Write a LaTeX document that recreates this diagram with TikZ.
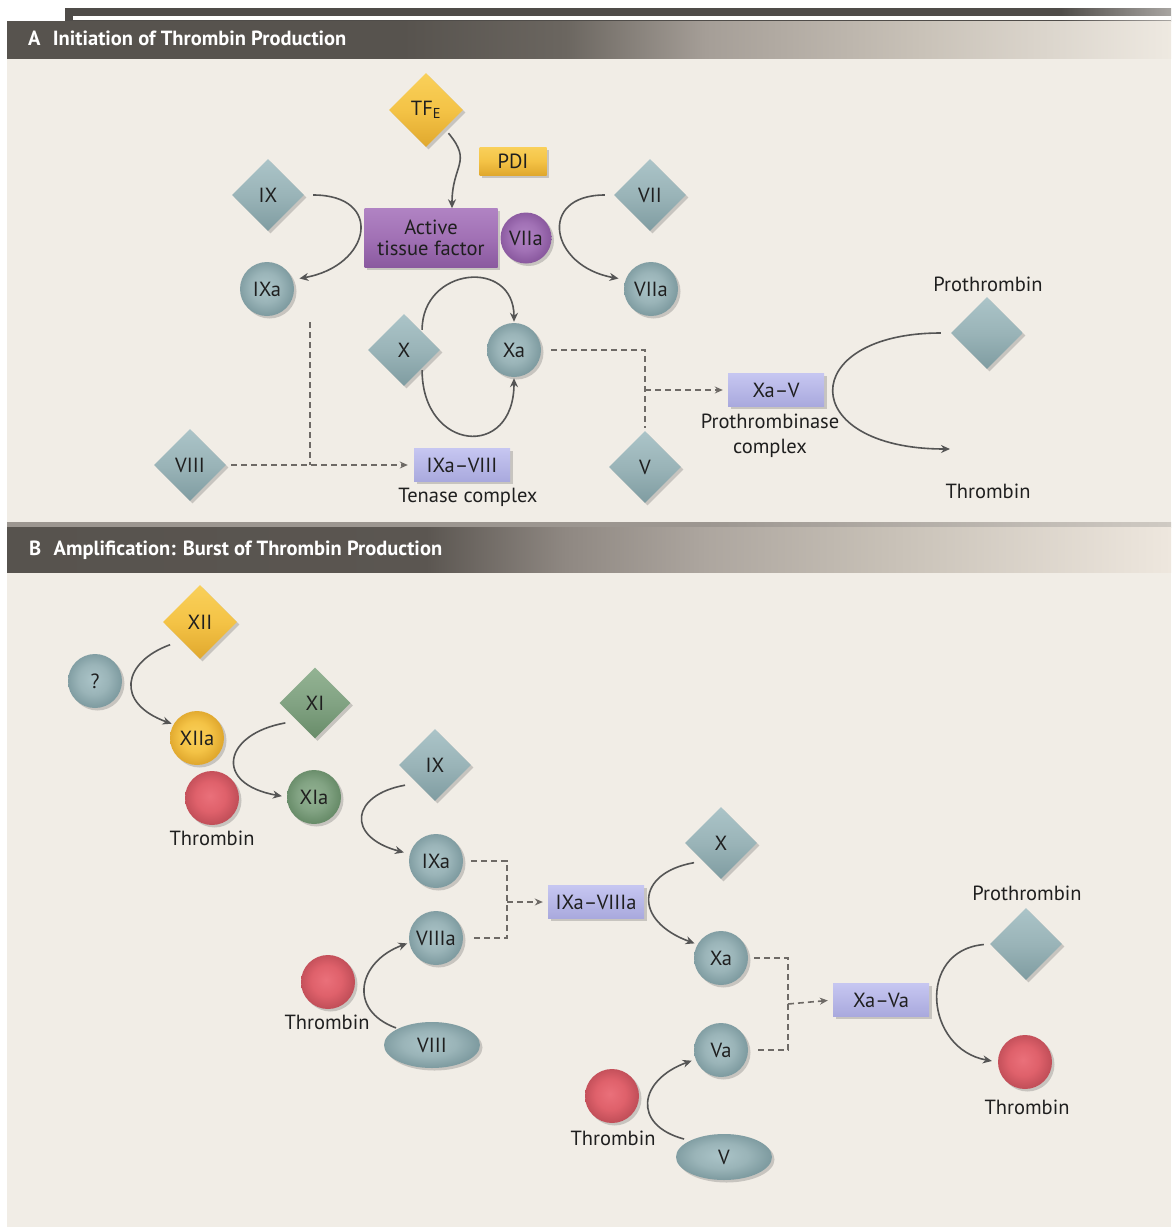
\documentclass[tikz,border=0pt]{standalone}
\usepackage{fontspec}
\setmainfont{PT Sans}
\usetikzlibrary{arrows.meta,shapes.geometric,shadows}

\definecolor{bgc}{HTML}{F1EDE6}
\definecolor{txt}{HTML}{1F1F1F}
\definecolor{arrc}{HTML}{555555}
\definecolor{dshc}{HTML}{6E6A66}
\definecolor{tealL}{HTML}{ABC4C8}
\definecolor{tealF}{HTML}{9AB4B8}
\definecolor{tealD}{HTML}{7F9CA1}
\definecolor{yelL}{HTML}{F9D05A}
\definecolor{yelF}{HTML}{F4C346}
\definecolor{yelD}{HTML}{E0A82E}
\definecolor{grnL}{HTML}{93B393}
\definecolor{grnF}{HTML}{82A383}
\definecolor{grnD}{HTML}{688C69}
\definecolor{redL}{HTML}{EA707A}
\definecolor{redF}{HTML}{DF616B}
\definecolor{redD}{HTML}{C24F59}
\definecolor{purL}{HTML}{B083C3}
\definecolor{purF}{HTML}{A171B5}
\definecolor{purD}{HTML}{8A599F}
\definecolor{lavL}{HTML}{C6C6F1}
\definecolor{lavD}{HTML}{A9A9DD}
\definecolor{hd1}{HTML}{57534E}
\definecolor{hA2}{HTML}{6B6660}
\definecolor{hA3}{HTML}{A59E97}
\definecolor{hA4}{HTML}{C8C1B7}
\definecolor{hA5}{HTML}{EEE9E1}
\definecolor{hB2}{HTML}{5B5651}
\definecolor{hB3}{HTML}{8F8882}
\definecolor{hB4}{HTML}{ADA69F}
\definecolor{hB5}{HTML}{C8C1B7}
\definecolor{hB6}{HTML}{EEE7DE}
\definecolor{tb1}{HTML}{4F4C49}
\definecolor{tb2}{HTML}{A8A5A2}
\definecolor{sp1}{HTML}{9C9690}
\definecolor{sp2}{HTML}{CFCAC3}

\pgfdeclareradialshading{tealball}{\pgfpoint{-2bp}{2bp}}{color(0bp)=(tealL);color(14bp)=(tealF);color(25bp)=(tealD);color(50bp)=(tealD)}
\pgfdeclareradialshading{yelball}{\pgfpoint{-2bp}{2bp}}{color(0bp)=(yelL);color(14bp)=(yelF);color(25bp)=(yelD);color(50bp)=(yelD)}
\pgfdeclareradialshading{grnball}{\pgfpoint{-2bp}{2bp}}{color(0bp)=(grnL);color(14bp)=(grnF);color(25bp)=(grnD);color(50bp)=(grnD)}
\pgfdeclareradialshading{redball}{\pgfpoint{-2bp}{2bp}}{color(0bp)=(redL);color(14bp)=(redF);color(25bp)=(redD);color(50bp)=(redD)}
\pgfdeclareradialshading{purball}{\pgfpoint{-2bp}{2bp}}{color(0bp)=(purL);color(14bp)=(purF);color(25bp)=(purD);color(50bp)=(purD)}

\pgfdeclarehorizontalshading{topbar}{100bp}{color(0bp)=(tb1);color(25bp)=(tb1);color(70bp)=(tb1);color(75bp)=(tb2);color(100bp)=(tb2)}
\pgfdeclarehorizontalshading{hdrA}{100bp}{color(0bp)=(hd1);color(25bp)=(hd1);color(42bp)=(hd1);color(49bp)=(hA2);color(55bp)=(hA3);color(64bp)=(hA4);color(75bp)=(hA5);color(100bp)=(hA5)}
\pgfdeclarehorizontalshading{hdrB}{100bp}{color(0bp)=(hd1);color(25bp)=(hd1);color(43bp)=(hB2);color(49bp)=(hB3);color(55bp)=(hB4);color(63bp)=(hB5);color(75bp)=(hB6);color(100bp)=(hB6)}
\pgfdeclarehorizontalshading{sepbar}{100bp}{color(0bp)=(sp1);color(25bp)=(sp1);color(55bp)=(sp1);color(75bp)=(sp2);color(100bp)=(sp2)}

\begin{document}
\begin{tikzpicture}[x=1pt,y=1pt,
  lbl/.style={font=\fontsize{20.5}{23}\selectfont, text=txt, inner sep=0pt},
  hdr/.style={font=\fontsize{20.5}{22}\selectfont\bfseries, text=white, inner sep=0pt},
  nd/.style={font=\fontsize{20.5}{23}\selectfont, text=txt, inner sep=0pt},
  shd/.style={drop shadow={shadow xshift=2.5pt,shadow yshift=-2.5pt,opacity=0.25,fill=black!70}},
  tdia/.style={nd, shd, diamond, minimum width=72pt, minimum height=72pt, top color=tealL, bottom color=tealD, middle color=tealF},
  ydia/.style={nd, shd, diamond, minimum width=74pt, minimum height=74pt, top color=yelL, bottom color=yelD, middle color=yelF},
  gdia/.style={nd, shd, diamond, minimum width=71pt, minimum height=71pt, top color=grnL, bottom color=grnD, middle color=grnF},
  tcirc/.style={nd, shd, circle, minimum size=54pt, shade, shading=tealball},
  ycirc/.style={nd, shd, circle, minimum size=54pt, shade, shading=yelball},
  gcirc/.style={nd, shd, circle, minimum size=54pt, shade, shading=grnball},
  rcirc/.style={nd, shd, circle, minimum size=54pt, shade, shading=redball},
  pcirc/.style={nd, shd, circle, minimum size=51pt, shade, shading=purball},
  tell/.style={nd, shd, ellipse, minimum width=96pt, minimum height=46pt, shade, shading=tealball},
  pbox/.style={nd, shd, rectangle, top color=purL, bottom color=purD, middle color=purF, minimum width=133pt, minimum height=59pt, align=center, font=\fontsize{20.5}{21.5}\selectfont},
  ybox/.style={nd, shd, rectangle, top color=yelL, bottom color=yelD, middle color=yelF, minimum width=67pt, minimum height=28pt},
  lbox/.style={nd, shd, rectangle, top color=lavL, bottom color=lavD, minimum width=96pt, minimum height=33pt},
  arr/.style={draw=arrc, line width=1.6pt, -{Stealth[length=9pt,width=8pt]}},
  dsh/.style={draw=dshc, line width=1.6pt, dash pattern=on 6pt off 4pt},
  dsharr/.style={dsh, -{Stealth[length=8pt,width=7pt]}}
]
\useasboundingbox (0,0) rectangle (1171,-1227);
% backgrounds
\fill[white] (0,0) rectangle (1171,-1227);
\fill[bgc] (7,-58) rectangle (1171,-522);
\fill[bgc] (7,-572) rectangle (1171,-1227);
\shade[shading=topbar] (65,-8) rectangle (1171,-21);
\fill[white] (73,-16) rectangle (1171,-20);
\shade[shading=hdrA] (7,-21) rectangle (1171,-58);
\shade[shading=sepbar] (7,-522) rectangle (1171,-527);
\shade[shading=hdrB] (7,-527) rectangle (1171,-572);
\node[hdr, anchor=west] (hA) at (28,-38) {A\hspace{0.6em}Initiation of Thrombin Production};
\node[hdr, anchor=west] (hB) at (29,-550) {B\hspace{0.6em}Amplification: Burst of Thrombin Production};

% ---------------- Panel A nodes
\node[ydia] (tf) at (426,-110) {TF\textsubscript{E}};
\node[ybox] (pdi) at (513,-161) {PDI};
\node[tdia] (ixA) at (268,-195) {IX};
\node[pbox] (atf) at (431,-238) {Active\\tissue factor};
\node[pcirc] (viiapA) at (526,-238) {VIIa};
\node[tdia] (viiA) at (650,-195) {VII};
\node[tcirc] (viiaA) at (651,-289) {VIIa};
\node[tcirc] (ixaA) at (267,-289) {IXa};
\node[tdia] (xA) at (404,-350) {X};
\node[tcirc] (xaA) at (514,-350) {Xa};
\node[lbl] (proAl) at (988,-284) {Prothrombin};
\node[tdia] (proA) at (987,-333) {};
\node[lbox] (xav) at (776,-390) {Xa–V};
\node[lbl, align=center, font=\fontsize{20.5}{25}\selectfont] (pcx) at (770,-436) {Prothrombinase\\complex};
\node[lbl] (thrAl) at (988,-491) {Thrombin};
\node[tdia] (viiiA) at (190,-465) {VIII};
\node[lbox] (ten) at (462,-465) {IXa–VIII};
\node[lbl] (tenl) at (468,-497) {Tenase complex};
\node[tdia] (vA) at (645,-467) {V};
\coordinate (thrAtip) at (950,-449);
\coordinate (jA0) at (310,-322);
\coordinate (jA) at (310,-465);
\coordinate (jB) at (645,-390);

% Panel A connectors
\draw[arr, shorten <=6pt] (tf.south east) to[out=-50,in=90,looseness=1.4] ([xshift=21pt]atf.north);
\draw[arr, shorten <=9pt, shorten >=7pt] (ixA.east) to[out=0,in=10,looseness=2.4] (ixaA.20);
\draw[arr, shorten <=9pt, shorten >=7pt] (viiA.west) to[out=180,in=170,looseness=2.3] (viiaA.160);
\draw[arr, shorten <=2pt, shorten >=1pt] (xA.north east) to[out=90,in=90,looseness=1.8] (xaA.north);
\draw[arr, shorten <=2pt, shorten >=1pt] (xA.south east) to[out=-90,in=-90,looseness=2.3] (xaA.south);
\draw[arr, shorten <=10pt] (proA.west) to[out=180,in=180,looseness=3.4] (thrAtip);
\draw[dsh] (jA0) -- (jA);
\draw[dsharr, shorten <=5pt, shorten >=6pt] (viiiA.east) -- (ten.west);
\draw[dsh, shorten <=10pt, shorten >=3pt] (xaA.east) -| (vA.north);
\draw[dsharr, shorten >=5pt] (jB) -- (xav.west);

% ---------------- Panel B nodes
\node[ydia] (xii) at (200,-622) {XII};
\node[tcirc] (q) at (95,-681) {?};
\node[ycirc] (xiia) at (197,-738) {XIIa};
\node[rcirc] (thr1) at (212,-798) {};
\node[lbl] (thr1l) at (212,-838) {Thrombin};
\node[gdia] (xi) at (315,-703) {XI};
\node[gcirc] (xia) at (314,-797) {XIa};
\node[tdia] (ixB) at (435,-765) {IX};
\node[tcirc] (ixaB) at (436,-861) {IXa};
\node[tcirc] (viiiaB) at (436,-938) {VIIIa};
\node[rcirc] (thr2) at (328,-982) {};
\node[lbl] (thr2l) at (327,-1022) {Thrombin};
\node[tell] (viiiB) at (432,-1045) {VIII};
\node[lbox] (ixv) at (596,-902) {IXa–VIIIa};
\node[tdia] (xB) at (721,-843) {X};
\node[tcirc] (xaB) at (721,-958) {Xa};
\node[tcirc] (vaB) at (721,-1050) {Va};
\node[rcirc] (thr3) at (612,-1096) {};
\node[lbl] (thr3l) at (613,-1138) {Thrombin};
\node[tell] (vB) at (724,-1157) {V};
\node[lbox] (xava) at (881,-1000) {Xa–Va};
\node[lbl] (proBl) at (1027,-893) {Prothrombin};
\node[tdia] (proB) at (1026,-944) {};
\node[rcirc] (thr4) at (1025,-1062) {};
\node[lbl] (thr4l) at (1027,-1107) {Thrombin};
\coordinate (jC) at (507,-902);
\coordinate (jD) at (788,-1004);

% Panel B connectors
\draw[arr, shorten <=12pt, shorten >=2pt] (xii.south west) to[out=200,in=160,looseness=1.9] (xiia.150);
\draw[arr, shorten <=12pt, shorten >=5pt] (xi.south west) to[out=190,in=170,looseness=2.5] (xia.west);
\draw[arr, shorten <=12pt, shorten >=6pt] (ixB.south west) to[out=190,in=165,looseness=2.4] (ixaB.165);
\draw[arr, shorten <=2pt, shorten >=2pt] (viiiB.north west) to[out=160,in=200,looseness=1.6] (viiiaB.190);
\draw[arr, shorten <=9pt, shorten >=3pt] (xB.south west) to[out=190,in=160,looseness=2.1] (xaB.150);
\draw[arr, shorten <=6pt, shorten >=4pt] (vB.north west) to[out=165,in=200,looseness=1.9] (vaB.200);
\draw[arr, shorten <=6pt, shorten >=6pt] (proB.west) to[out=185,in=170,looseness=1.6] (thr4.west);
\draw[dsh, shorten <=8pt, shorten >=10pt] (ixaB.east) -| (jC) |- (viiiaB.east);
\draw[dsharr, shorten >=5pt] (jC) -- (ixv.west);
\draw[dsh, shorten <=6pt, shorten >=8pt] (xaB.east) -| (jD) |- (vaB.east);
\draw[dsharr, shorten >=5pt] (jD) -- (xava.west);
\end{tikzpicture}
\end{document}
